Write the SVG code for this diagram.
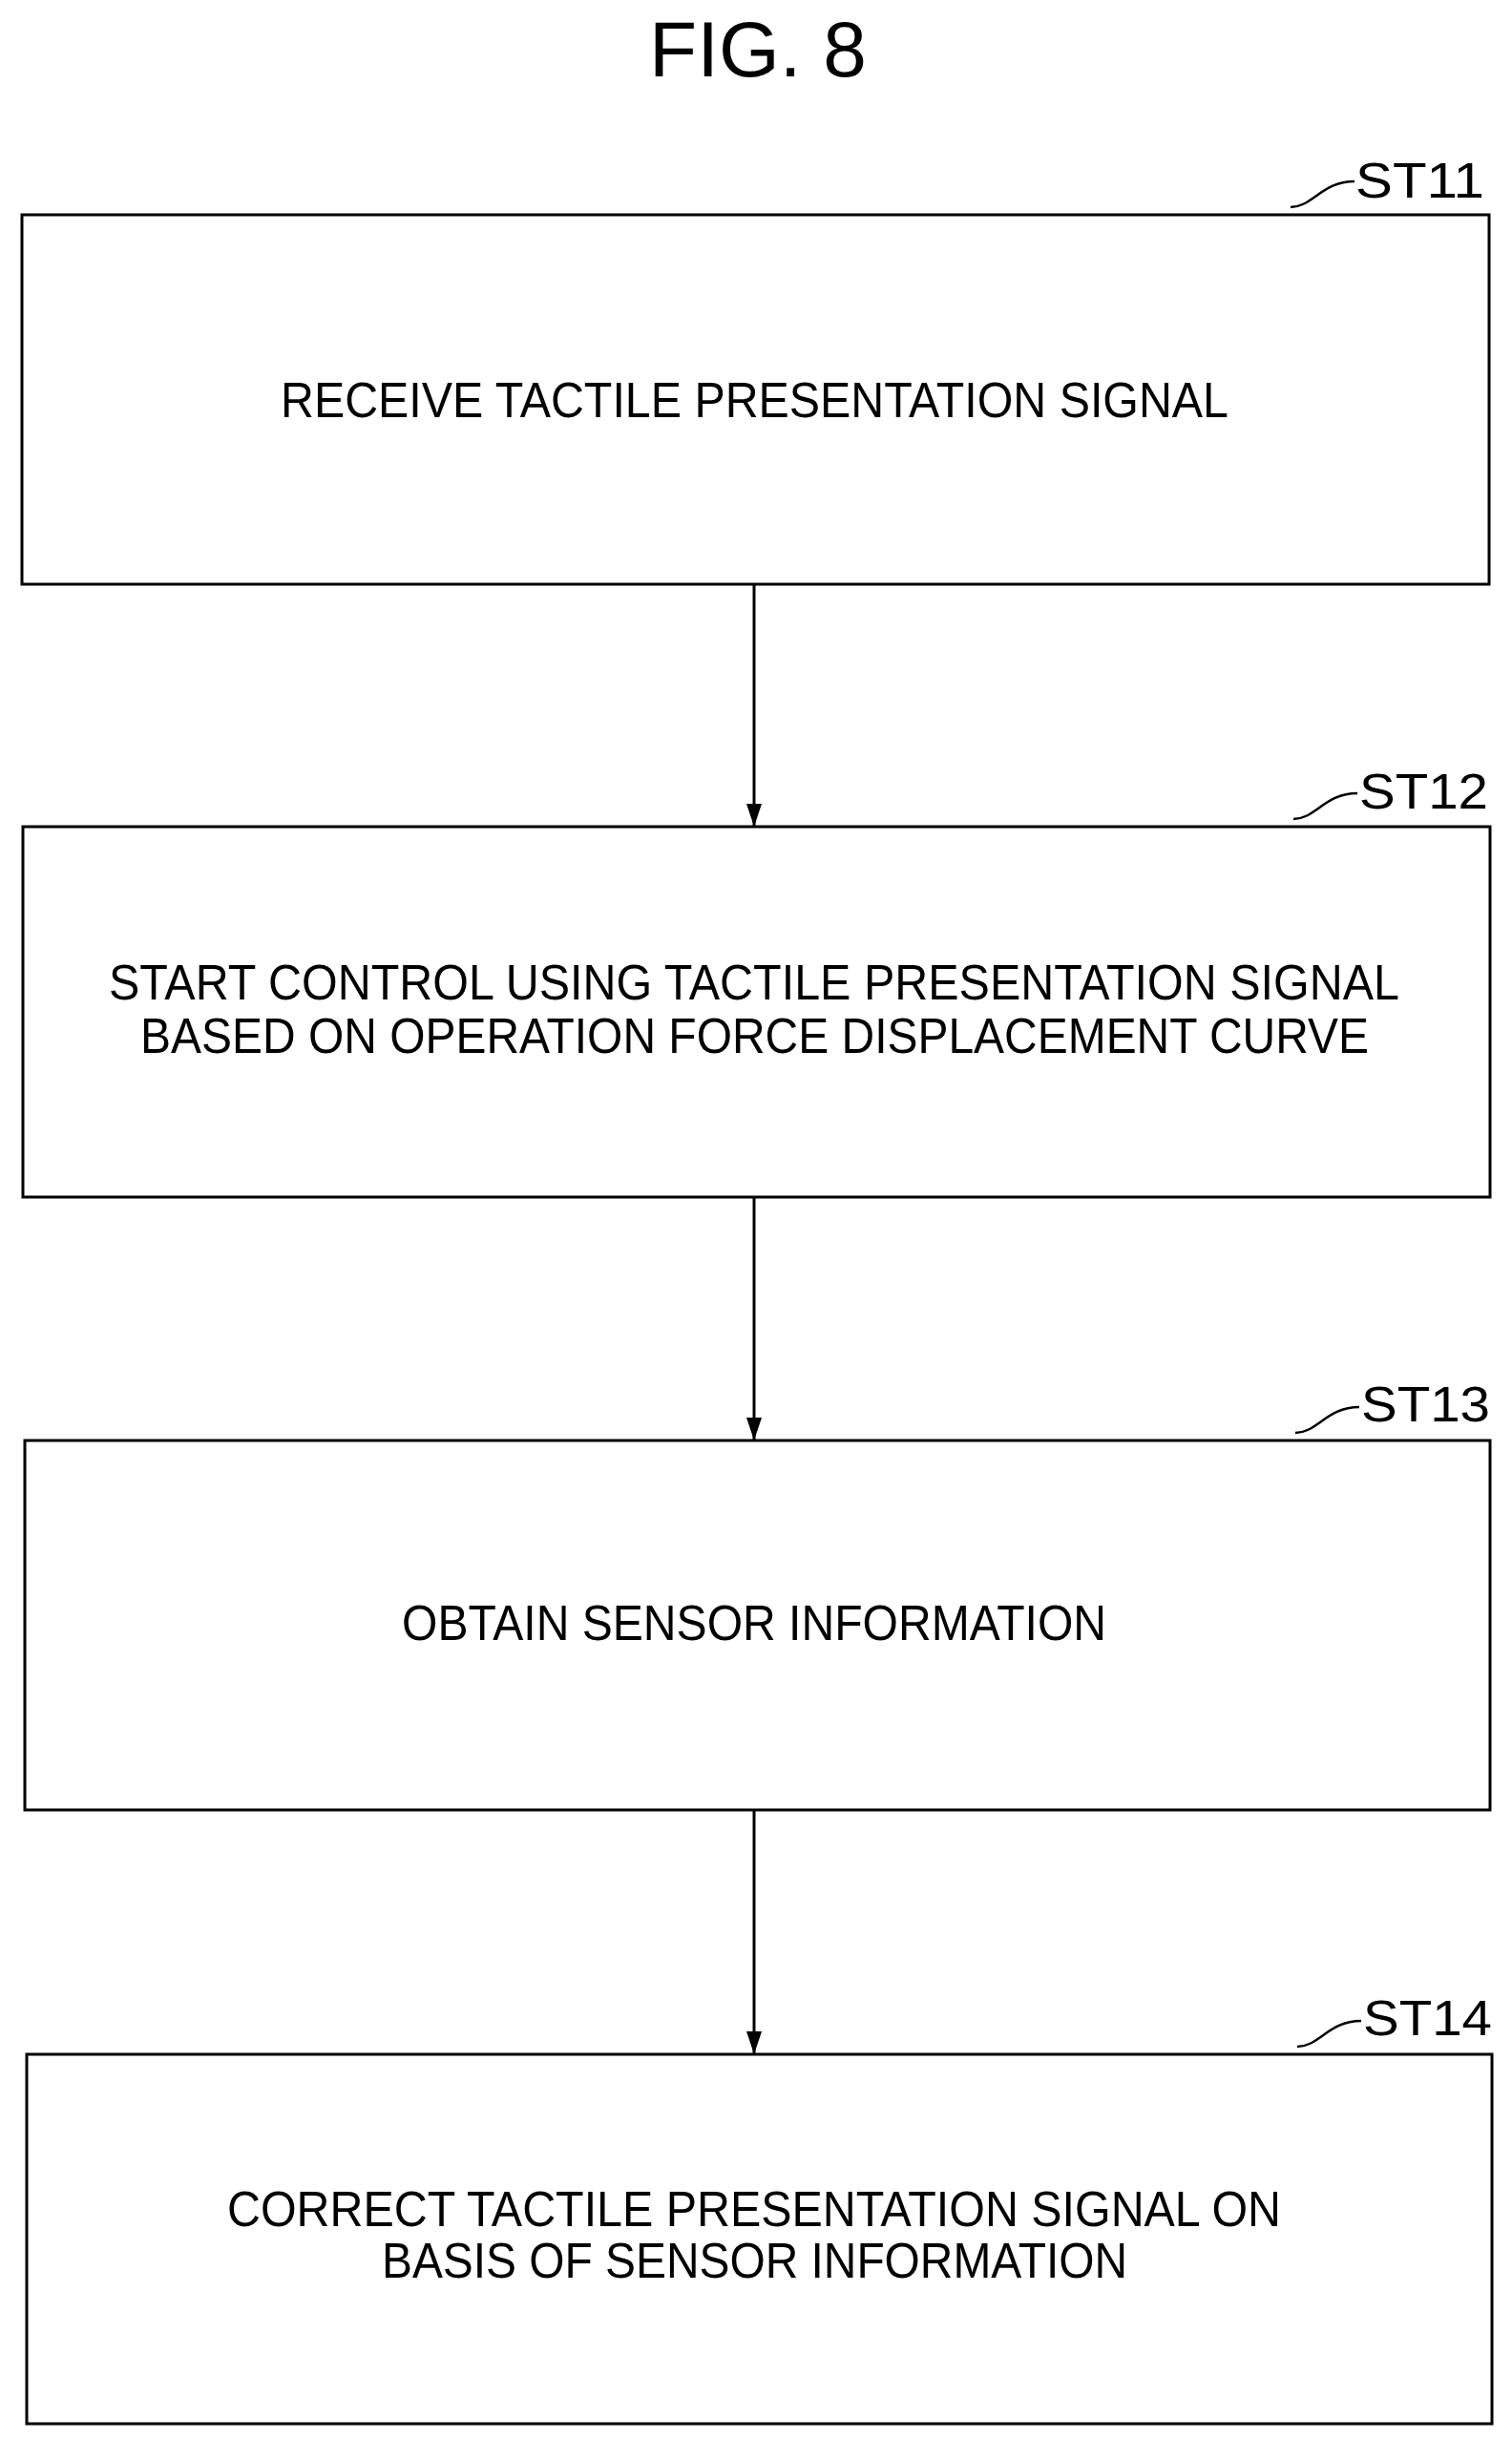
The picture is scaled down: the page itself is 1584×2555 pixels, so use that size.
<svg xmlns="http://www.w3.org/2000/svg" width="1584" height="2555" viewBox="0 0 1584 2555">
<style>
.box{fill:#fff;stroke:#000;stroke-width:3}
.t{font-family:"Liberation Sans",Arial,sans-serif;font-size:52px;fill:#000}
.lbl{font-family:"Liberation Sans",Arial,sans-serif;font-size:52px;fill:#000}
.sq{fill:none;stroke:#000;stroke-width:2.5}
.c{stroke:#000;stroke-width:3;fill:none}
</style>
<defs><marker id="a" viewBox="0 0 24 16" refX="24" refY="8" markerWidth="24" markerHeight="16" orient="auto" markerUnits="userSpaceOnUse"><path d="M0,0 L24,8 L0,16 Z" fill="#000"/></marker></defs>
<rect width="1584" height="2555" fill="#fff"/>
<text x="794" y="80" text-anchor="middle" font-family="Liberation Sans,Arial,sans-serif" font-size="82" fill="#000">FIG. 8</text>
<g id="connectors">
<line class="c" x1="790" y1="612" x2="790" y2="866" marker-end="url(#a)"/>
<line class="c" x1="790" y1="1254" x2="790" y2="1509" marker-end="url(#a)"/>
<line class="c" x1="790" y1="1896" x2="790" y2="2152" marker-end="url(#a)"/>
</g>
<g id="st11"><rect class="box" x="23" y="225" width="1537" height="387"/>
<text class="t" x="294" y="437" textLength="993" lengthAdjust="spacingAndGlyphs">RECEIVE TACTILE PRESENTATION SIGNAL</text>
<path class="sq" d="M1352,217 C1375,217 1385,190 1419,190"/><text class="lbl" x="1420" y="207" textLength="135" lengthAdjust="spacingAndGlyphs">ST11</text></g>
<g id="st12"><rect class="box" x="24" y="866" width="1537" height="388"/>
<text class="t" x="114" y="1047" textLength="1352" lengthAdjust="spacingAndGlyphs">START CONTROL USING TACTILE PRESENTATION SIGNAL</text>
<text class="t" x="147" y="1103" textLength="1287" lengthAdjust="spacingAndGlyphs">BASED ON OPERATION FORCE DISPLACEMENT CURVE</text>
<path class="sq" d="M1355,858 C1378,858 1388,831 1422,831"/><text class="lbl" x="1424" y="847" textLength="135" lengthAdjust="spacingAndGlyphs">ST12</text></g>
<g id="st13"><rect class="box" x="26" y="1509" width="1535" height="387"/>
<text class="t" x="421" y="1718" textLength="738" lengthAdjust="spacingAndGlyphs">OBTAIN SENSOR INFORMATION</text>
<path class="sq" d="M1357,1501 C1380,1501 1390,1474 1424,1474"/><text class="lbl" x="1426" y="1489" textLength="135" lengthAdjust="spacingAndGlyphs">ST13</text></g>
<g id="st14"><rect class="box" x="28" y="2152" width="1535" height="387"/>
<text class="t" x="238" y="2332" textLength="1104" lengthAdjust="spacingAndGlyphs">CORRECT TACTILE PRESENTATION SIGNAL ON</text>
<text class="t" x="400" y="2386" textLength="781" lengthAdjust="spacingAndGlyphs">BASIS OF SENSOR INFORMATION</text>
<path class="sq" d="M1359,2144 C1382,2144 1392,2117 1426,2117"/><text class="lbl" x="1428" y="2132" textLength="135" lengthAdjust="spacingAndGlyphs">ST14</text></g>
</svg>
